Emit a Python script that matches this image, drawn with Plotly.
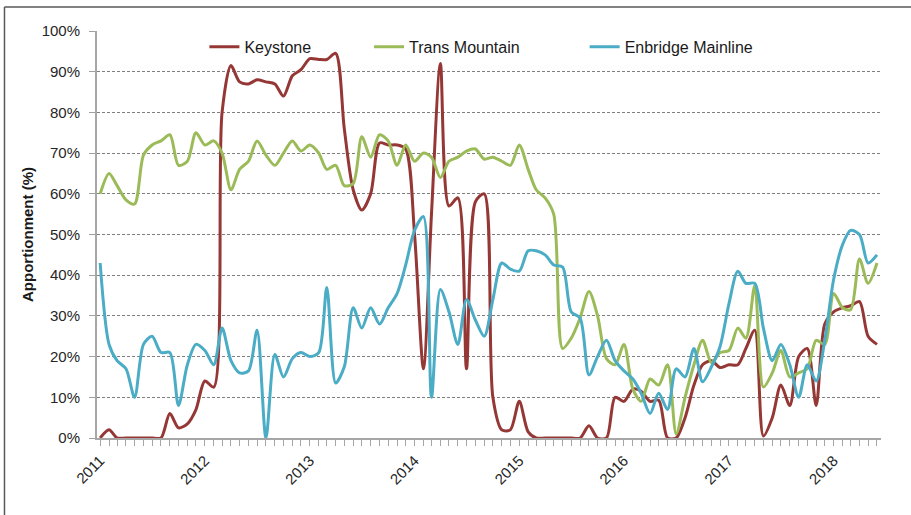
import pandas as pd
import plotly.graph_objects as go

# monthly apportionment, Jan 2011 - Jun 2018 (%)
meses = pd.date_range("2011-01-01", periods=90, freq="MS")

keystone = [
    0, 2, 0, 0, 0, 0, 0, 0, 6, 2.5, 3.5, 7,
    14, 12.5, 80, 91.5, 87.5, 87, 88, 87.5, 87, 84, 89, 90.5,
    93.2, 93, 93, 94.5, 76, 61, 56, 60, 72.5, 72, 72, 71,
    50, 17, 55, 92, 57, 59, 17, 58, 60, 10, 2, 2,
    9, 1.5, 0, 0, 0, 0, 0, 0, 3, 0, 0, 10,
    9, 12, 11.5, 9, 9.3, 0, 0, 5, 13, 18, 19, 17.3,
    18, 18, 22, 26.5, 0.5, 5, 13, 8, 20, 22, 8, 28,
    31, 32, 32.5, 33.5, 25, 23,
]

trans_mountain = [
    60, 65, 62, 58.5, 57.5, 69.5, 72, 73, 74.5, 67, 68, 75,
    72, 73, 70, 61, 66, 68, 73, 69.5, 67, 70, 73, 70.5,
    72, 70, 66, 67, 62, 62.5, 74, 69, 74.5, 73, 67, 72,
    68, 70, 69, 64, 68, 69, 70.5, 71, 68.5, 69, 68, 67,
    72, 66, 61, 59, 55, 22, 24.5, 29.5, 36, 30, 19.5, 18,
    23, 12, 9, 14.5, 13, 18, 1, 10, 18, 24, 18.5, 21,
    21.5, 27, 24.5, 37.5, 12.5, 16, 21.5, 15, 16, 17, 24, 23,
    35.5, 32, 31.5, 44, 38, 43,
]

enbridge = [
    43, 23, 19, 17, 10, 23, 25, 21, 21, 8, 18, 23,
    21.5, 18, 27, 19, 16, 16.5, 26.5, 0, 20.5, 15, 19.5, 21,
    20, 21, 37, 13.5, 17.5, 32, 27, 32, 28, 32, 35.5, 42.5,
    51, 54.4, 10, 36.5, 31, 23, 34, 29, 25, 34, 43, 41.5,
    41, 46, 46, 45, 42.5, 42, 31, 29.5, 15.5, 20, 24, 19,
    16.5, 14.5, 11, 6, 11, 7, 17, 15, 22, 13.8, 17.5, 22.5,
    33, 41, 38, 38, 27, 19, 23, 18, 10, 18, 14, 24,
    39, 47.5, 51, 50, 43, 45,
]

anos = pd.date_range("2011-01-01", periods=8, freq="YS")
rotulos_anos = [str(d.year) for d in anos]

series = [
    ("Keystone", keystone, "#953735", "legend"),
    ("Trans Mountain", trans_mountain, "#9BBB59", "legend2"),
    ("Enbridge Mainline", enbridge, "#4BACC6", "legend3"),
]

fig = go.Figure()
for nome, valores, cor, leg in series:
    fig.add_trace(go.Scatter(
        x=meses, y=valores, name=nome, mode="lines",
        line=dict(color=cor, width=3, shape="spline", smoothing=0.8),
        legend=leg,
    ))

fonte = dict(family="Liberation Sans, Arial, sans-serif", size=15, color="#262626")
eixo = "#A6A6A6"

def leg_pos(x):
    return dict(x=x, y=0.961, xanchor="left", yanchor="middle", orientation="h",
                bgcolor="rgba(0,0,0,0)", font=dict(family=fonte["family"], size=16, color="#1a1a1a"),
                itemwidth=30)

fig.update_layout(
    width=911, height=515,
    margin=dict(l=97, r=30, t=31, b=77),
    plot_bgcolor="white", paper_bgcolor="white",
    font=fonte,
    showlegend=True,
    legend=leg_pos(0.137),
    legend2=leg_pos(0.347),
    legend3=leg_pos(0.622),
)

fig.update_xaxes(
    type="date",
    range=["2010-12-21", "2018-06-15"],
    tickvals=anos, ticktext=rotulos_anos, tickangle=-45,
    ticks="outside", ticklen=6, tickcolor=eixo, tickwidth=1,
    minor=dict(dtick="M1", ticks="outside", ticklen=6, tickcolor=eixo, showgrid=False),
    showgrid=False, showline=True, linecolor=eixo, linewidth=2,
    tickfont=fonte,
)

fig.update_yaxes(
    range=[0, 100], dtick=10, ticksuffix="%",
    ticks="outside", ticklen=6, tickcolor="#A0A0A0", ticklabelstandoff=6,
    showgrid=True, gridcolor="#7F7F7F", gridwidth=1, griddash="3px,2px",
    showline=True, linecolor=eixo, linewidth=2, zeroline=False,
    tickfont=fonte,
    title=dict(text="<b>Apportionment (%)</b>", font=dict(family=fonte["family"], size=15, color="#1a1a1a"), standoff=4),
)

# moldura (so topo e lado esquerdo aparecem)
fig.add_shape(type="line", xref="paper", yref="paper", x0=-0.118, x1=1.04, y0=1.059, y1=1.059,
              line=dict(color="#595959", width=1.5))
fig.add_shape(type="line", xref="paper", yref="paper", x0=-0.118, x1=-0.118, y0=1.059, y1=-0.2,
              line=dict(color="#595959", width=1.5))

fig.write_html("out.html", config={"displayModeBar": False},
               post_script="document.body.style.margin='0';")
